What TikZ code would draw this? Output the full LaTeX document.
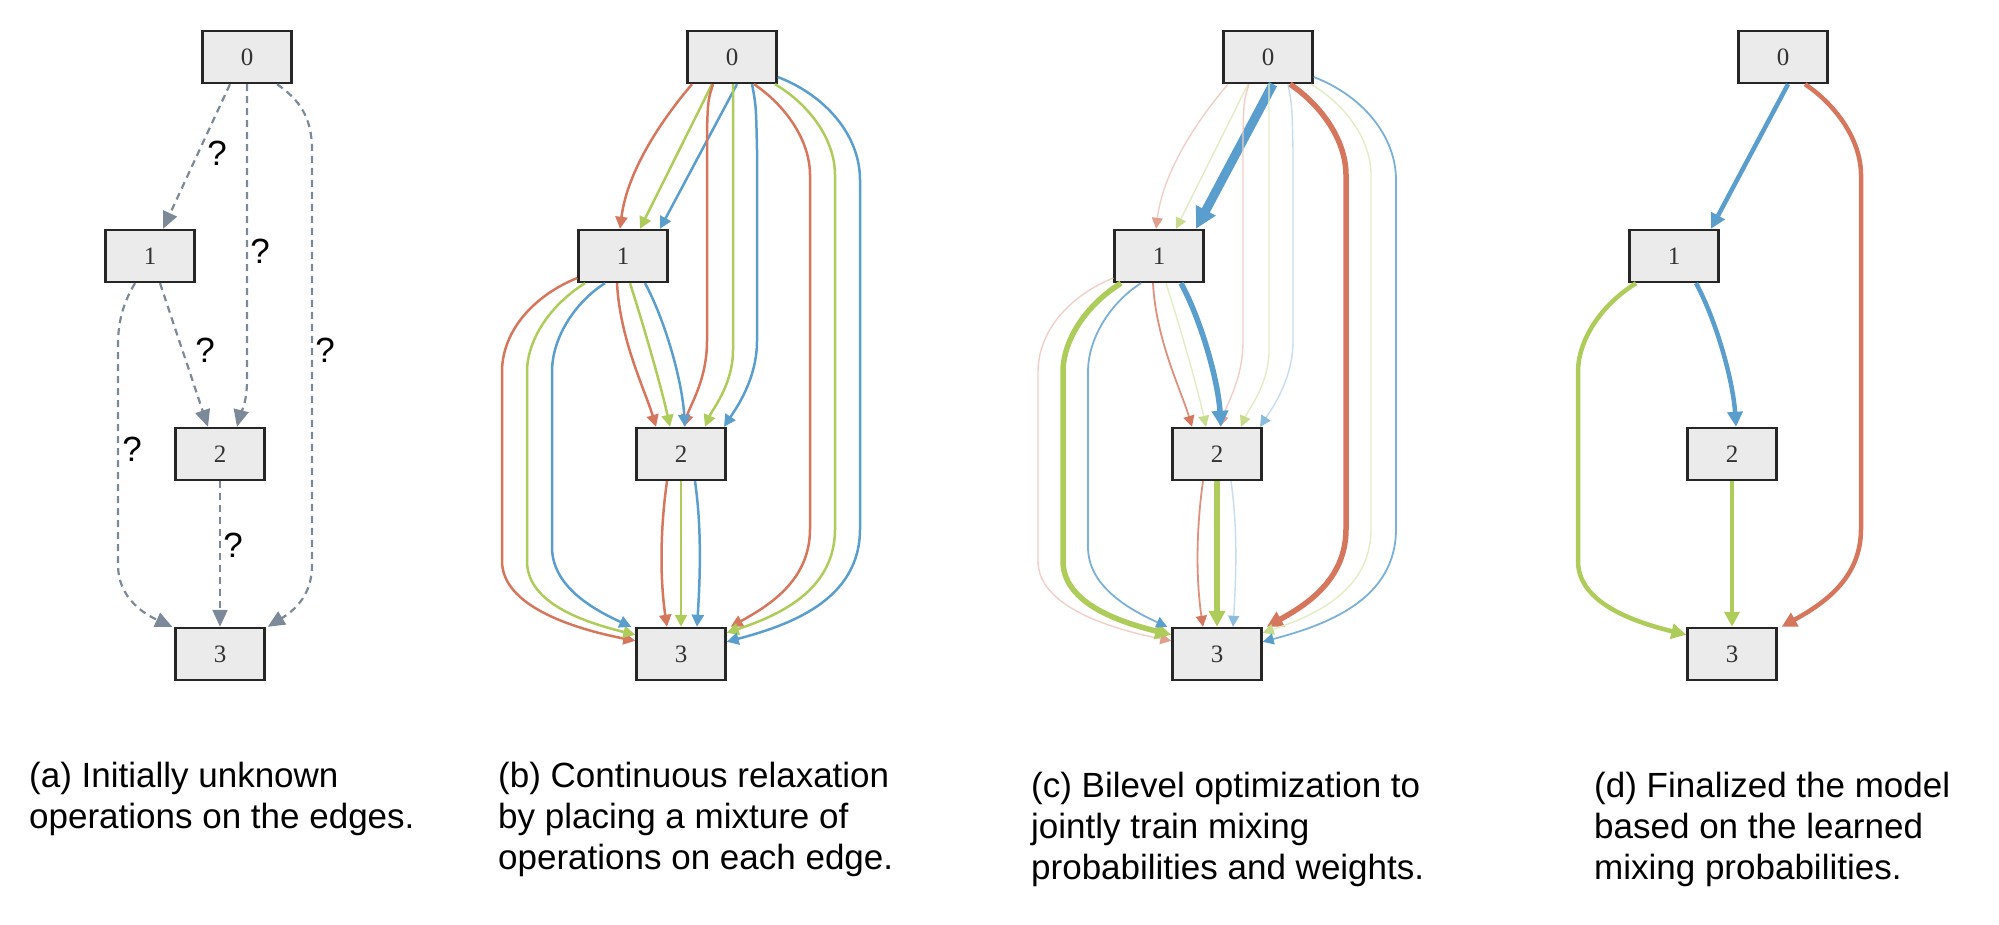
\documentclass[tikz,border=0pt]{standalone}
\usepackage{fontspec}
\setmainfont{Liberation Sans}
\newfontfamily\digitfont{Liberation Serif}
\usetikzlibrary{arrows.meta}
\definecolor{cred}{HTML}{D6765C}
\definecolor{cgreen}{HTML}{AECC5A}
\definecolor{cblue}{HTML}{5A9ECE}
\definecolor{cgray}{HTML}{7B8998}
\definecolor{boxfill}{HTML}{EBEBEB}
\newcommand\capfont{\fontsize{35pt}{41pt}\selectfont}
\tikzset{
 box/.style={draw=black!85, fill=boxfill, line width=2.4pt, minimum width=89pt, minimum height=52pt, inner sep=0pt, font=\digitfont\fontsize{25pt}{25pt}\selectfont, text=black!80},
 ed/.style n args={4}{draw=#1, line width=#2pt, -{Triangle[length=#3pt,width=#3pt,color=#4]}},
 eNorm/.style={ed={#1}{2.5}{12}{#1}},
 eFade/.style={ed={#1!35}{1.4}{11}{#1!70}},
 eLite/.style={ed={#1!80}{1.8}{11}{#1}},
 eThick/.style={ed={#1}{5.5}{16}{#1}},
 eHuge/.style={ed={#1}{9}{21}{#1}},
 eFin/.style={ed={#1}{4.5}{15}{#1}},
 dsh/.style={draw=cgray, line width=2.2pt, dash pattern=on 7pt off 5pt, -{Triangle[length=17pt,width=15pt,color=cgray]}},
 qm/.style={font=\capfont, inner sep=0pt},
 captxt/.style={anchor=base west, inner sep=0pt, font=\capfont},
}
% edges of the mixed graph: #1 prefix, #2 x offset, #3 style
\newcommand\eAr[3]{\draw[#3] ([xshift=-40pt]#1-0.south) .. controls ({#2+670},110) and ({#2+628},165) .. ([xshift=-3pt]#1-1.north);}
\newcommand\eAg[3]{\draw[#3] ([xshift=-20pt]#1-0.south) -- ([xshift=17pt]#1-1.north);}
\newcommand\eAb[3]{\draw[#3] ([xshift=5pt]#1-0.south) -- ([xshift=37pt]#1-1.north);}
\newcommand\eBr[3]{\draw[#3] ([xshift=-19pt]#1-0.south) .. controls ({#2+708},100) .. ({#2+707},130) -- ({#2+707},341) .. controls ({#2+707},380) and ({#2+690},405) .. ([xshift=3pt]#1-2.north);}
\newcommand\eBg[3]{\draw[#3] ([xshift=1pt]#1-0.south) -- ({#2+733},350) .. controls ({#2+733},385) and ({#2+712},410) .. ([xshift=24pt]#1-2.north);}
\newcommand\eBb[3]{\draw[#3] ([xshift=20pt]#1-0.south) .. controls ({#2+756},105) .. ({#2+757},150) -- ({#2+757},341) .. controls ({#2+757},380) and ({#2+735},410) .. ([xshift=43pt]#1-2.north);}
\newcommand\eCr[3]{\draw[#3] ([xshift=22pt]#1-0.south) .. controls ({#2+785},105) and ({#2+810},140) .. ({#2+810},175) -- ({#2+810},529) .. controls ({#2+810},580) and ({#2+770},605) .. ([xshift=4pt]#1-3.north east);}
\newcommand\eCg[3]{\draw[#3] ([xshift=43pt]#1-0.south) .. controls ({#2+810},105) and ({#2+835},140) .. ({#2+835},175) -- ({#2+835},529) .. controls ({#2+835},590) and ({#2+780},615) .. ([yshift=-6pt]#1-3.north east);}
\newcommand\eCb[3]{\draw[#3] ([yshift=-20pt]#1-0.east) .. controls ({#2+825},95) and ({#2+860},135) .. ({#2+860},180) -- ({#2+860},529) .. controls ({#2+860},600) and ({#2+790},625) .. ([yshift=-15pt]#1-3.north east);}
\newcommand\eDr[3]{\draw[#3] ([xshift=-6pt]#1-1.south) .. controls ({#2+620},340) and ({#2+645},390) .. ([xshift=-25pt]#1-2.north);}
\newcommand\eDg[3]{\draw[#3] ([xshift=7pt]#1-1.south) .. controls ({#2+645},330) and ({#2+662},390) .. ([xshift=-11pt]#1-2.north);}
\newcommand\eDb[3]{\draw[#3] ([xshift=22pt]#1-1.south) .. controls ({#2+665},320) and ({#2+682},380) .. ([xshift=4pt]#1-2.north);}
\newcommand\eEr[3]{\draw[#3] ([yshift=-22pt]#1-1.west) .. controls ({#2+535},295) and ({#2+502},330) .. ({#2+502},372) -- ({#2+502},561) .. controls ({#2+502},605) and ({#2+570},628) .. ([yshift=-14pt]#1-3.north west);}
\newcommand\eEg[3]{\draw[#3] ([xshift=-38pt]#1-1.south) .. controls ({#2+550},305) and ({#2+527},340) .. ({#2+527},372) -- ({#2+527},561) .. controls ({#2+527},600) and ({#2+575},620) .. ([yshift=-8pt]#1-3.north west);}
\newcommand\eEb[3]{\draw[#3] ([xshift=-18pt]#1-1.south) .. controls ({#2+578},300) and ({#2+552},335) .. ({#2+552},372) -- ({#2+552},547) .. controls ({#2+552},585) and ({#2+590},608) .. ([xshift=-4pt]#1-3.north west);}
\newcommand\eFr[3]{\draw[#3] ([xshift=-14pt]#1-2.south) .. controls ({#2+660},530) and ({#2+660},580) .. ([xshift=-14pt]#1-3.north);}
\newcommand\eFg[3]{\draw[#3] (#1-2.south) -- (#1-3.north);}
\newcommand\eFb[3]{\draw[#3] ([xshift=14pt]#1-2.south) .. controls ({#2+702},530) and ({#2+700},580) .. ([xshift=16pt]#1-3.north);}
\newcommand\cellnodes[2]{%
 \node[box] (#1-0) at ({#2+732},57) {0};
 \node[box] (#1-1) at ({#2+623},256) {1};
 \node[box] (#1-2) at ({#2+681},454) {2};
 \node[box] (#1-3) at ({#2+681},654) {3};
}
\begin{document}
\begin{tikzpicture}[x=1pt,y=-1pt]
\useasboundingbox (0,0) rectangle (1999,925);
% ---------- (a)
\node[box] (a-0) at (247,57) {0};
\node[box] (a-1) at (150,256) {1};
\node[box] (a-2) at (220,454) {2};
\node[box] (a-3) at (220,654) {3};
\draw[dsh] ([xshift=-17pt]a-0.south) -- ([xshift=13pt]a-1.north);
\draw[dsh] (a-0.south) -- (247,380) .. controls (247,405) and (240,415) .. ([xshift=17pt]a-2.north);
\draw[dsh] ([xshift=30pt]a-0.south) .. controls (300,100) and (312,118) .. (312,150) -- (312,565) .. controls (312,595) and (295,610) .. ([xshift=2pt]a-3.north east);
\draw[dsh] ([xshift=10pt]a-1.south) -- ([xshift=-12pt]a-2.north);
\draw[dsh] ([xshift=-15pt]a-1.south) .. controls (125,300) and (118,318) .. (118,345) -- (118,565) .. controls (118,595) and (140,612) .. ([xshift=-2pt]a-3.north west);
\draw[dsh] (a-2.south) -- (a-3.north);
\node[qm] (qa1) at (217,153) {?};
\node[qm] (qa2) at (260,251) {?};
\node[qm] (qa3) at (325,350) {?};
\node[qm] (qa4) at (205,350) {?};
\node[qm] (qa5) at (132,449) {?};
\node[qm] (qa6) at (233,545) {?};
% ---------- (b)
\cellnodes{b}{0}
\eAr{b}{0}{eNorm=cred}\eAg{b}{0}{eNorm=cgreen}\eAb{b}{0}{eNorm=cblue}
\eBr{b}{0}{eNorm=cred}\eBg{b}{0}{eNorm=cgreen}\eBb{b}{0}{eNorm=cblue}
\eCr{b}{0}{eNorm=cred}\eCg{b}{0}{eNorm=cgreen}\eCb{b}{0}{eNorm=cblue}
\eDr{b}{0}{eNorm=cred}\eDg{b}{0}{eNorm=cgreen}\eDb{b}{0}{eNorm=cblue}
\eEr{b}{0}{eNorm=cred}\eEg{b}{0}{eNorm=cgreen}\eEb{b}{0}{eNorm=cblue}
\eFr{b}{0}{eNorm=cred}\eFg{b}{0}{eNorm=cgreen}\eFb{b}{0}{eNorm=cblue}
% ---------- (c)
\cellnodes{c}{536}
\eAr{c}{536}{eFade=cred}\eAg{c}{536}{eFade=cgreen}\eAb{c}{536}{eHuge=cblue}
\eBr{c}{536}{eFade=cred}\eBg{c}{536}{eFade=cgreen}\eBb{c}{536}{eFade=cblue}
\eCr{c}{536}{eThick=cred}\eCg{c}{536}{eFade=cgreen}\eCb{c}{536}{eLite=cblue}
\eDr{c}{536}{eLite=cred}\eDg{c}{536}{eFade=cgreen}\eDb{c}{536}{eThick=cblue}
\eEr{c}{536}{eFade=cred}\eEg{c}{536}{eThick=cgreen}\eEb{c}{536}{eLite=cblue}
\eFr{c}{536}{eLite=cred}\eFg{c}{536}{eThick=cgreen}\eFb{c}{536}{eFade=cblue}
% ---------- (d)
\cellnodes{d}{1051}
\eAb{d}{1051}{eFin=cblue}
\eCr{d}{1051}{eFin=cred}
\eDb{d}{1051}{eFin=cblue}
\eEg{d}{1051}{eFin=cgreen}
\eFg{d}{1051}{eFin=cgreen}
% ---------- captions
\node[captxt] (ca1) at (29,787) {(a) Initially unknown};
\node[captxt] (ca2) at (29,828) {operations on the edges.};
\node[captxt] (cb1) at (498,787) {(b) Continuous relaxation};
\node[captxt] (cb2) at (498,828) {by placing a mixture of};
\node[captxt] (cb3) at (498,869) {operations on each edge.};
\node[captxt] (cc1) at (1031,797) {(c) Bilevel optimization to};
\node[captxt] (cc2) at (1031,838) {jointly train mixing};
\node[captxt] (cc3) at (1031,879) {probabilities and weights.};
\node[captxt] (cd1) at (1594,797) {(d) Finalized the model};
\node[captxt] (cd2) at (1594,838) {based on the learned};
\node[captxt] (cd3) at (1594,879) {mixing probabilities.};
\end{tikzpicture}
\end{document}
